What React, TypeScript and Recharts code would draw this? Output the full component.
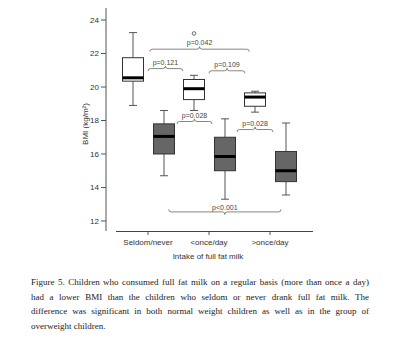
import React from 'react';
import { ComposedChart, Bar, XAxis, YAxis, ReferenceLine, Label } from 'recharts';

// groups on the x axis
const groups = ['Seldom/never', '<once/day', '>once/day'];

// white boxes (overweight children)
const overMin = [18.9, 18.6, 18.5];
const overQ1 = [20.35, 19.25, 18.85];
const overMedian = [20.55, 19.9, 19.4];
const overQ3 = [21.75, 20.45, 19.65];
const overMax = [23.25, 20.7, 19.75];
const overOutliers = [[], [23.2], []];

// grey boxes (normal weight children)
const normMin = [14.7, 13.3, 13.55];
const normQ1 = [16.0, 15.0, 14.35];
const normMedian = [17.05, 15.85, 15.0];
const normQ3 = [17.8, 17.0, 16.15];
const normMax = [18.6, 18.1, 17.85];
const normOutliers = [[], [], []];

const yTicks = [12, 14, 16, 18, 20, 22, 24];

// p-value braces, x in group units (1 = first group), y in BMI
const pLabels = ['p=0.042', 'p=0.121', 'p=0.109', 'p=0.028', 'p=0.028', 'p<0.001'];
const pFrom = [1.03, 1.0, 2.0, 1.475, 2.46, 1.34];
const pTo = [2.66, 1.57, 2.59, 2.05, 3.05, 3.18];
const pLevel = [22.26, 21.1, 20.97, 17.94, 17.46, 12.54];
const pOpen = ['down', 'down', 'down', 'down', 'down', 'up'];

const captionLines = [
  'Figure 5. Children who consumed full fat milk on a regular basis (more than once a day)',
  'had a lower BMI than the children who seldom or never drank full fat milk. The',
  'difference was significant in both normal weight children as well as in the group of',
  'overweight children.',
];

const rows = groups.map((g, i) => ({
  group: g,
  pos: i + 1,
  over: [overMin[i], overMax[i]],
  overStats: { min: overMin[i], q1: overQ1[i], med: overMedian[i], q3: overQ3[i], max: overMax[i], out: overOutliers[i] },
  norm: [normMin[i], normMax[i]],
  normStats: { min: normMin[i], q1: normQ1[i], med: normMedian[i], q3: normQ3[i], max: normMax[i], out: normOutliers[i] },
}));

const FONT = 'Liberation Sans, Arial, sans-serif';
const Y_MIN = 11.4;

function BoxShape({ x, y, width, height, s, fill }: any) {
  const top = Math.min(y, y + height);
  const h = Math.abs(height);
  const py = (v: number) => top + ((s.max - v) / (s.max - s.min)) * h;
  const cx = x + width / 2;
  const cap = 4;
  return (
    <g>
      <line x1={cx} x2={cx} y1={py(s.max)} y2={py(s.q3)} stroke="#555" strokeWidth={1} />
      <line x1={cx} x2={cx} y1={py(s.q1)} y2={py(s.min)} stroke="#555" strokeWidth={1} />
      <line x1={cx - cap} x2={cx + cap} y1={py(s.max)} y2={py(s.max)} stroke="#555" strokeWidth={1} />
      <line x1={cx - cap} x2={cx + cap} y1={py(s.min)} y2={py(s.min)} stroke="#555" strokeWidth={1} />
      <rect x={x} y={py(s.q3)} width={width} height={py(s.q1) - py(s.q3)} fill={fill} stroke="#333" strokeWidth={1} />
      <line x1={x} x2={x + width} y1={py(s.med)} y2={py(s.med)} stroke="#000" strokeWidth={3} />
      {s.out.map((o: number, k: number) => (
        <circle key={k} cx={cx} cy={py(o)} r={1.8} fill="none" stroke="#444" strokeWidth={0.8} />
      ))}
    </g>
  );
}

function Brace({ x1, x2, y1, label, open }: any) {
  const a = Math.min(x1, x2);
  const b = Math.max(x1, x2);
  const y = y1;
  const h = 2.5;
  const d = open === 'down' ? 1 : -1;
  const c = (a + b) / 2;
  const path =
    `M ${a} ${y + d * h} Q ${a} ${y} ${a + h} ${y} L ${c - h} ${y} Q ${c} ${y} ${c} ${y - d * h} ` +
    `Q ${c} ${y} ${c + h} ${y} L ${b - h} ${y} Q ${b} ${y} ${b} ${y + d * h}`;
  const ly = open === 'down' ? y - 6.5 : y - 4;
  return (
    <g>
      <path d={path} fill="none" stroke="#666" strokeWidth={0.8} />
      <text x={c} y={ly} textAnchor="middle" dominantBaseline="central" fontSize={7} fontFamily={FONT} fill="#444">
        {label}
      </text>
    </g>
  );
}

const YTitle = () => {
  const cx = 85;
  const cy = 124;
  return (
    <text x={cx} y={cy} transform={`rotate(-90 ${cx} ${cy})`} textAnchor="middle" dominantBaseline="central"
      fontSize={8} fontFamily={FONT} fill="#333">
      BMI (kg/m²)
    </text>
  );
};

// x title, plus the R-style axis line that starts 10px right of the y axis
const XTitle = ({ viewBox }: any) => (
  <g>
    <line x1={viewBox.x + 10} x2={viewBox.x + viewBox.width} y1={viewBox.y + 0.5} y2={viewBox.y + 0.5}
      stroke="#444" strokeWidth={1.2} />
    <text x={208} y={256} textAnchor="middle" dominantBaseline="central"
      fontSize={8} fontFamily={FONT} fill="#333">
      Intake of full fat milk
    </text>
  </g>
);

export default function App() {
  const pad = { left: 11.5, right: 12.5 };
  return (
    <div style={{ position: 'absolute', left: 0, top: 0, width: 400, height: 360, background: '#fff' }}>
      <ComposedChart width={400} height={265} data={rows} margin={{ top: 8, right: 87, left: 66, bottom: 4 }}
        barSize={21} barGap={10}>
        <XAxis dataKey="group" height={30} padding={pad} stroke="#555" tickSize={4} tickMargin={4}
          axisLine={false} tick={{ fontSize: 8, fill: '#333', fontFamily: FONT }} interval={0}>
          <Label content={XTitle} />
        </XAxis>
        <XAxis xAxisId="pos" dataKey="pos" type="number" domain={[0.3115, 3.705]} allowDataOverflow hide />
        <YAxis yAxisId="bmi" width={40} domain={[Y_MIN, 24.72]} ticks={yTicks} stroke="#555" tickSize={5}
          tick={{ fontSize: 8, fill: '#333', fontFamily: FONT }}>
          <Label content={YTitle} />
        </YAxis>
        <Bar yAxisId="bmi" dataKey="over" isAnimationActive={false}
          shape={(p: any) => <BoxShape {...p} s={p.payload.overStats} fill="#fff" />} />
        <Bar yAxisId="bmi" dataKey="norm" isAnimationActive={false}
          shape={(p: any) => <BoxShape {...p} s={p.payload.normStats} fill="#666" />} />
        {pLabels.map((lab, i) => (
          <ReferenceLine key={i} xAxisId="pos" yAxisId="bmi" ifOverflow="visible"
            segment={[{ x: pFrom[i], y: pLevel[i] }, { x: pTo[i], y: pLevel[i] }]}
            shape={(p: any) => <Brace {...p} label={lab} open={pOpen[i]} />} />
        ))}
      </ComposedChart>
      <div style={{ position: 'absolute', left: 31, top: 275, width: 338, fontFamily: 'Liberation Serif, Times New Roman, serif',
        fontSize: 9, lineHeight: '14.5px', color: '#222' }}>
        {captionLines.map((line, i) => (
          <div key={i} style={{ textAlign: 'justify', textAlignLast: i < captionLines.length - 1 ? 'justify' : 'left', whiteSpace: 'nowrap' }}>
            {line}
          </div>
        ))}
      </div>
    </div>
  );
}
